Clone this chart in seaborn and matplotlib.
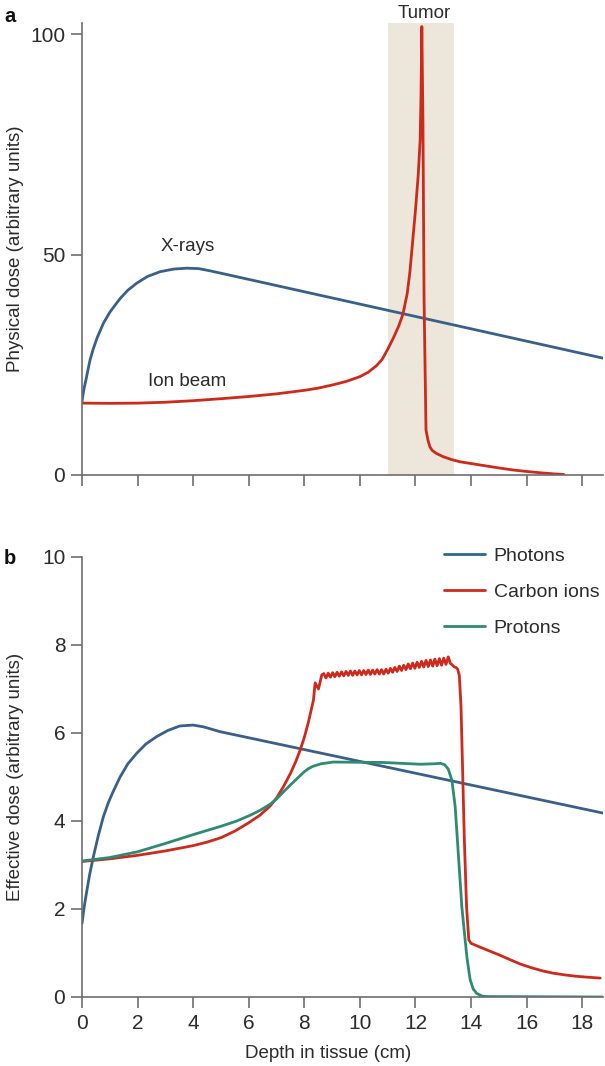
import numpy as np
import pandas as pd
import matplotlib
matplotlib.use("Agg")
import matplotlib.pyplot as plt
import seaborn as sns

# ---------------- Panel a data ----------------
xray_depth = [0.0, 0.03, 0.08, 0.15, 0.22, 0.29, 0.4, 0.55, 0.77, 1.0, 1.2, 1.37, 1.65, 1.97, 2.35, 2.81,
              3.3, 3.77, 4.2, 4.61, 4.9, 18.75]
xray_dose = [16.6, 18.0, 19.8, 21.8, 24.0, 26.1, 28.5, 31.2, 34.4, 36.9, 38.6, 40.0, 41.9, 43.5, 45.0, 46.1,
             46.7, 46.9, 46.8, 46.3, 45.9, 26.5]

ion_depth = [0.0, 1.0, 2.0, 3.0, 4.0, 5.0, 6.0, 7.0, 8.0, 8.5, 9.0, 9.5, 10.0, 10.3, 10.6, 10.8, 11.0,
             11.2, 11.4, 11.55, 11.7, 11.8, 11.9, 12.0, 12.1, 12.17, 12.2, 12.23,
             12.27, 12.31, 12.38, 12.45, 12.52, 12.6, 12.75, 13.0, 13.3, 13.6, 14.0, 14.33, 14.7,
             15.0, 15.5, 16.0, 16.5, 17.0, 17.34]
ion_dose = [16.3, 16.25, 16.3, 16.5, 16.85, 17.3, 17.8, 18.4, 19.2, 19.7, 20.4, 21.2, 22.3, 23.3, 24.8, 26.2, 28.5,
            31.0, 33.8, 36.5, 41.0, 46.0, 53.0, 60.0, 68.0, 76.0, 86.0, 101.7,
            80.0, 40.0, 10.2, 7.9, 6.4, 5.6, 4.9, 4.15, 3.5, 3.0, 2.6, 2.27, 1.9,
            1.6, 1.15, 0.8, 0.5, 0.25, 0.12]

tumor_range = [11.0, 13.4]

# ---------------- Panel b data ----------------
photon_depth = [0.0, 0.08, 0.17, 0.28, 0.41, 0.58, 0.77, 0.95, 1.1, 1.37, 1.65, 1.97, 2.3, 2.69, 3.1, 3.52,
                4.0, 4.37, 4.97, 18.75]
photon_dose = [1.67, 2.05, 2.40, 2.80, 3.19, 3.65, 4.10, 4.42, 4.64, 5.0, 5.30, 5.54, 5.75, 5.92, 6.06, 6.16,
               6.18, 6.14, 6.03, 4.18]

carbon_depth = [0.0, 1.0, 2.0, 3.0, 4.0, 4.5, 5.0, 5.5, 6.0, 6.4, 6.77, 7.0, 7.25, 7.5, 7.7, 7.85, 8.0, 8.15,
                8.33, 8.39, 8.51, 8.63,
                8.70, 8.78, 8.86, 8.94, 9.02, 9.10, 9.18, 9.26, 9.34, 9.42, 9.50, 9.58, 9.66, 9.74,
                9.82, 9.90, 9.98, 10.06, 10.14, 10.22, 10.30, 10.38, 10.46, 10.54, 10.62, 10.70,
                10.78, 10.86, 10.94, 11.02, 11.10, 11.18, 11.26, 11.34, 11.42, 11.50, 11.58, 11.66,
                11.74, 11.82, 11.90, 11.98, 12.06, 12.14, 12.22, 12.30, 12.38, 12.46, 12.54, 12.62,
                12.70, 12.78, 12.86, 12.94, 13.02, 13.10, 13.18, 13.26, 13.32, 13.40, 13.46, 13.52,
                13.58, 13.64, 13.70, 13.76, 13.84, 13.92, 14.0, 14.3, 14.57, 15.0, 15.4, 15.77, 16.2,
                16.6, 16.97, 17.4, 17.8, 18.2, 18.65]
carbon_dose = [3.08, 3.14, 3.22, 3.32, 3.44, 3.52, 3.62, 3.77, 3.96, 4.13, 4.34, 4.52, 4.78, 5.08, 5.36, 5.61,
               5.90, 6.25, 6.75, 7.14, 7.00, 7.32,
               7.35, 7.25, 7.36, 7.27, 7.37, 7.28, 7.38, 7.29, 7.39, 7.30, 7.40, 7.31, 7.41, 7.31,
               7.41, 7.32, 7.42, 7.32, 7.42, 7.33, 7.43, 7.33, 7.43, 7.34, 7.44, 7.34,
               7.44, 7.34, 7.45, 7.36, 7.47, 7.38, 7.49, 7.40, 7.52, 7.42, 7.54, 7.44,
               7.57, 7.46, 7.59, 7.47, 7.61, 7.49, 7.63, 7.50, 7.65, 7.51, 7.66, 7.52,
               7.68, 7.53, 7.69, 7.54, 7.70, 7.56, 7.73, 7.58, 7.55, 7.50, 7.49, 7.45,
               7.30, 6.60, 5.10, 3.57, 2.05, 1.30, 1.22, 1.14, 1.07, 0.96, 0.85, 0.75, 0.66,
               0.59, 0.54, 0.50, 0.47, 0.45, 0.43]

proton_depth = [0.0, 1.0, 2.0, 3.0, 4.0, 5.0, 5.57, 6.05, 6.4, 6.77, 7.0, 7.25, 7.5, 7.7, 7.85, 8.0, 8.15,
                8.3, 8.6, 9.05, 10.85, 12.17, 12.65, 12.9, 13.05, 13.18, 13.31, 13.43, 13.55, 13.67,
                13.78, 13.85, 13.92, 13.97, 14.08, 14.21, 14.4, 14.57, 18.75]
proton_dose = [3.09, 3.17, 3.30, 3.49, 3.69, 3.88, 4.00, 4.13, 4.24, 4.38, 4.50, 4.66, 4.82, 4.94, 5.03, 5.12, 5.19,
               5.24, 5.30, 5.34, 5.33, 5.29, 5.30, 5.31, 5.28, 5.18, 4.93, 4.33, 3.19, 2.05,
               1.35, 0.92, 0.60, 0.39, 0.18, 0.08, 0.02, 0.01, 0.0]

x_ticks = [0, 2, 4, 6, 8, 10, 12, 14, 16, 18]
a_yticks = [0, 50, 100]
b_yticks = [0, 2, 4, 6, 8, 10]

BLUE = "#3a6089"
RED = "#cc2a1c"
GREEN = "#2f8a72"
LEG_BLUE = "#2a6a88"
GRAY = "#6e6e6e"
TXT = "#2b2b2b"

sns.set_theme(style="ticks")
plt.rcParams["font.family"] = ["Liberation Sans Narrow", "Liberation Sans", "DejaVu Sans"]
plt.rcParams["text.color"] = TXT
plt.rcParams["axes.labelcolor"] = TXT
plt.rcParams["xtick.color"] = GRAY
plt.rcParams["ytick.color"] = GRAY
plt.rcParams["xtick.labelcolor"] = TXT
plt.rcParams["ytick.labelcolor"] = TXT

W, H = 605, 1066
fig = plt.figure(figsize=(W / 100, H / 100), dpi=100)

def ax_rect(l, t, r, b):
    return [l / W, 1 - b / H, (r - l) / W, (b - t) / H]

ax1 = fig.add_axes(ax_rect(82, 23, 603, 475))
ax2 = fig.add_axes(ax_rect(82, 557, 603, 997))

lw = 2.0
LAB = 13.5
# Panel a
ax1.axvspan(tumor_range[0], tumor_range[1], color="#ede6db", lw=0, zorder=0)
sns.lineplot(x=xray_depth, y=xray_dose, ax=ax1, color=BLUE, lw=lw, sort=False, estimator=None)
sns.lineplot(x=ion_depth, y=ion_dose, ax=ax1, color=RED, lw=lw, sort=False, estimator=None)
ax1.set_xlim(0, 18.75)
ax1.set_ylim(0, 102.5)
ax1.set_xticks(x_ticks)
ax1.set_xticklabels([])
ax1.set_yticks(a_yticks)
ax1.set_ylabel("Physical dose (arbitrary units)", fontsize=LAB)
ax1.text(3.8, 50.0, "X-rays", fontsize=LAB, ha="center", va="bottom", color=TXT)
ax1.text(3.8, 19.2, "Ion beam", fontsize=LAB, ha="center", va="bottom", color=TXT)
ax1.text(12.3, 102.8, "Tumor", fontsize=LAB, ha="center", va="bottom", color=TXT)

# Panel b
sns.lineplot(x=photon_depth, y=photon_dose, ax=ax2, color=BLUE, lw=lw, sort=False, estimator=None, label="Photons")
sns.lineplot(x=carbon_depth, y=carbon_dose, ax=ax2, color=RED, lw=lw, sort=False, estimator=None, label="Carbon ions")
sns.lineplot(x=proton_depth, y=proton_dose, ax=ax2, color=GREEN, lw=lw, sort=False, estimator=None, label="Protons")
ax2.set_xlim(0, 18.75)
ax2.set_ylim(0, 10)
ax2.set_xticks(x_ticks)
ax2.set_yticks(b_yticks)
ax2.set_ylabel("Effective dose (arbitrary units)", fontsize=LAB)
ax2.set_xlabel("Depth in tissue (cm)", fontsize=LAB)

leg = ax2.legend(loc="upper left", bbox_to_anchor=(0.68, 1.04), frameon=False, fontsize=14,
                 handlelength=2.1, handletextpad=0.45, labelspacing=0.95, borderaxespad=0)
for h, c in zip(leg.get_lines(), [LEG_BLUE, RED, GREEN]):
    h.set_color(c)
    h.set_linewidth(2.0)

for ax in (ax1, ax2):
    sns.despine(ax=ax)
    for s in ("left", "bottom"):
        ax.spines[s].set_color(GRAY)
        ax.spines[s].set_linewidth(1.2)
    ax.tick_params(axis="both", direction="out", length=8, width=1.2, labelsize=15, pad=4)
    ax.set_facecolor("white")
    ax.yaxis.set_label_coords(-0.112, 0.5)

ax2.xaxis.set_label_coords(0.473, -0.11)

fig.text(4 / W, 1 - 17 / H, "a", fontsize=14.5, fontweight="bold", va="center", ha="left", color="#111111")
fig.text(4 / W, 1 - 559 / H, "b", fontsize=14.5, fontweight="bold", va="center", ha="left", color="#111111")

fig.savefig("out.png", dpi=100, facecolor="white")
